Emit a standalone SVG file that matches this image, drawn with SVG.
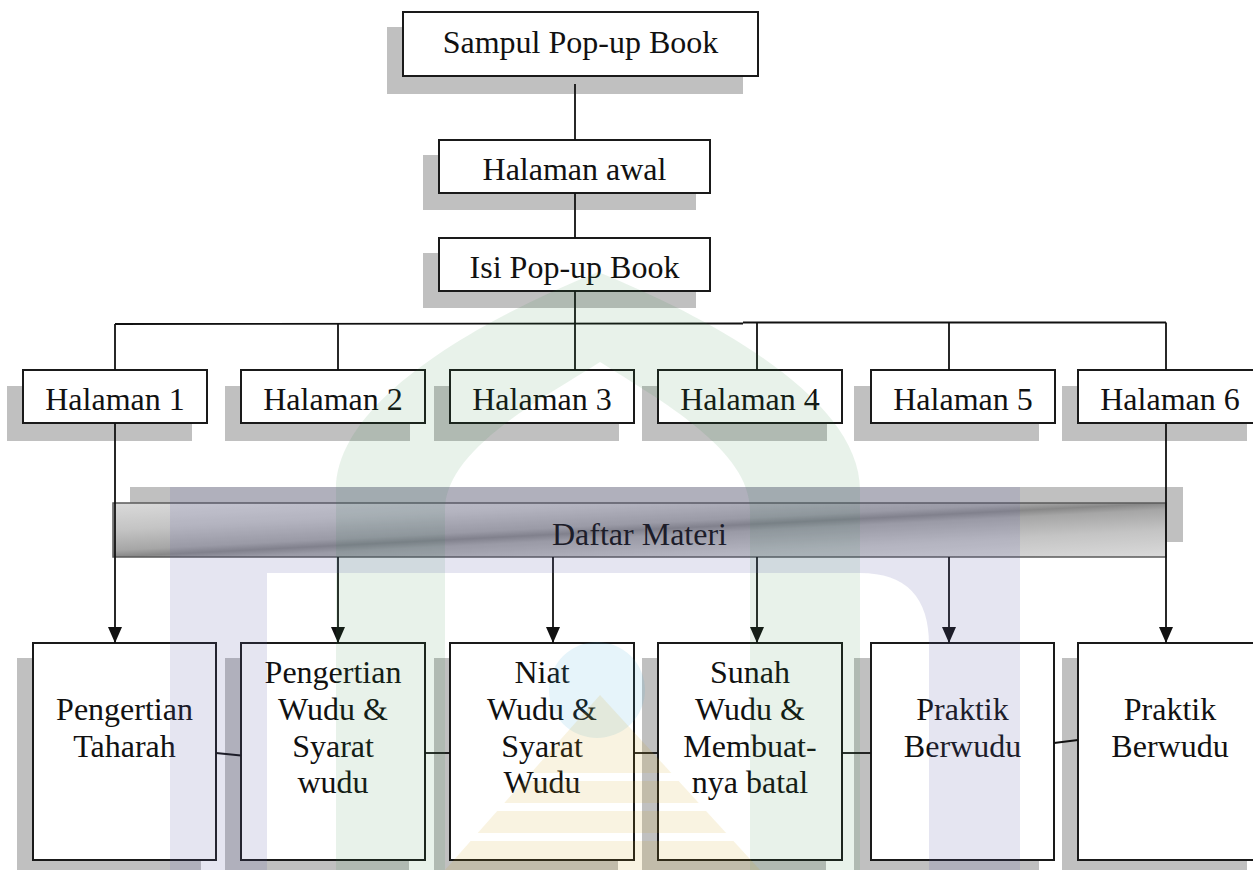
<svg xmlns="http://www.w3.org/2000/svg" width="1253" height="870" viewBox="0 0 1253 870">
<defs>
<style>
.box{fill:#fff;stroke:#1a1a1a;stroke-width:2}
.sh{fill:#c0c0c0}
.t{font-family:"Liberation Serif","Times New Roman",serif;font-size:32px;fill:#111;text-anchor:middle}
.ln{stroke:#111;stroke-width:1.8;fill:none}
.ar{marker-end:url(#ah)}
</style>
<marker id="ah" markerUnits="userSpaceOnUse" markerWidth="16" markerHeight="14" refX="16" refY="7" orient="auto" viewBox="0 0 16 14">
<path d="M0,0 L16,7 L0,14 Z" fill="#111"/>
</marker>
<linearGradient id="metal" x1="0" y1="0" x2="1" y2="1">
<stop offset="0" stop-color="#dadada"/>
<stop offset="0.25" stop-color="#c4c4c4"/>
<stop offset="0.44" stop-color="#a6a6a6"/>
<stop offset="0.5" stop-color="#888888"/>
<stop offset="0.56" stop-color="#a6a6a6"/>
<stop offset="0.75" stop-color="#c4c4c4"/>
<stop offset="1" stop-color="#dadada"/>
</linearGradient>
<mask id="goldmask">
<path d="M600,695 L445,870 L760,870 Z" fill="#fff"/>
<rect x="400" y="773" width="400" height="8" fill="#000"/>
<rect x="400" y="803" width="400" height="8" fill="#000"/>
<rect x="400" y="833" width="400" height="8" fill="#000"/>
</mask>
</defs>
<rect width="1253" height="870" fill="#fff"/>

<g id="sampul">
<rect class="sh" x="387" y="27" width="356" height="67"/>
<rect class="box" x="403" y="12" width="355" height="64"/>
<text class="t" x="580.5" y="53">Sampul Pop-up Book</text>
</g>
<g id="halaman-awal">
<rect class="sh" x="423" y="155" width="273" height="55"/>
<rect class="box" x="439" y="140" width="271" height="53"/>
<text class="t" x="574.5" y="180">Halaman awal</text>
</g>
<g id="isi">
<rect class="sh" x="423" y="253" width="273" height="55"/>
<rect class="box" x="439" y="238" width="271" height="53"/>
<text class="t" x="574.5" y="278">Isi Pop-up Book</text>
</g>

<g id="halaman-1">
<rect class="sh" x="7" y="386" width="185" height="55"/>
<rect class="box" x="23" y="370" width="184" height="53"/>
<text class="t" x="115" y="410">Halaman 1</text>
</g>
<g id="halaman-2">
<rect class="sh" x="225" y="386" width="185" height="55"/>
<rect class="box" x="241" y="370" width="184" height="53"/>
<text class="t" x="333" y="410">Halaman 2</text>
</g>
<g id="halaman-3">
<rect class="sh" x="434" y="386" width="185" height="55"/>
<rect class="box" x="450" y="370" width="184" height="53"/>
<text class="t" x="542" y="410">Halaman 3</text>
</g>
<g id="halaman-4">
<rect class="sh" x="642" y="386" width="185" height="55"/>
<rect class="box" x="658" y="370" width="184" height="53"/>
<text class="t" x="750" y="410">Halaman 4</text>
</g>
<g id="halaman-5">
<rect class="sh" x="854" y="386" width="185" height="55"/>
<rect class="box" x="871" y="370" width="184" height="53"/>
<text class="t" x="963" y="410">Halaman 5</text>
</g>
<g id="halaman-6">
<rect class="sh" x="1062" y="386" width="185" height="55"/>
<rect class="box" x="1078" y="370" width="184" height="53"/>
<text class="t" x="1170" y="410">Halaman 6</text>
</g>

<g id="daftar-materi">
<rect class="sh" x="130" y="487" width="1053" height="55"/>
<rect x="113" y="503" width="1053" height="54" fill="url(#metal)" stroke="#5a5a5a" stroke-width="1.5"/>
<text class="t" x="639.5" y="545">Daftar Materi</text>
</g>

<g id="materi-1">
<rect class="sh" x="17" y="658" width="184" height="230"/>
<rect class="box" x="33" y="643" width="183" height="217"/>
<text class="t" x="124.5" y="720">Pengertian</text>
<text class="t" x="124.5" y="757">Taharah</text>
</g>
<g id="materi-2">
<rect class="sh" x="225" y="658" width="184" height="230"/>
<rect class="box" x="241" y="643" width="184" height="217"/>
<text class="t" x="333" y="683">Pengertian</text>
<text class="t" x="333" y="720">Wudu &amp;</text>
<text class="t" x="333" y="757">Syarat</text>
<text class="t" x="333" y="793">wudu</text>
</g>
<g id="materi-3">
<rect class="sh" x="434" y="658" width="184" height="230"/>
<rect class="box" x="450" y="643" width="184" height="217"/>
<text class="t" x="542" y="683">Niat</text>
<text class="t" x="542" y="720">Wudu &amp;</text>
<text class="t" x="542" y="757">Syarat</text>
<text class="t" x="542" y="793">Wudu</text>
</g>
<g id="materi-4">
<rect class="sh" x="642" y="658" width="184" height="230"/>
<rect class="box" x="658" y="643" width="184" height="217"/>
<text class="t" x="750" y="683">Sunah</text>
<text class="t" x="750" y="720">Wudu &amp;</text>
<text class="t" x="750" y="757">Membuat-</text>
<text class="t" x="750" y="793">nya batal</text>
</g>
<g id="materi-5">
<rect class="sh" x="854" y="658" width="185" height="230"/>
<rect class="box" x="871" y="643" width="183" height="217"/>
<text class="t" x="962.5" y="720">Praktik</text>
<text class="t" x="962.5" y="757">Berwudu</text>
</g>
<g id="materi-6">
<rect class="sh" x="1062" y="658" width="185" height="230"/>
<rect class="box" x="1078" y="643" width="184" height="217"/>
<text class="t" x="1170" y="720">Praktik</text>
<text class="t" x="1170" y="757">Berwudu</text>
</g>

<g id="connectors">
<line class="ln" x1="575" y1="84" x2="575" y2="140"/>
<line class="ln" x1="575" y1="193" x2="575" y2="238"/>
<line class="ln" x1="575" y1="291" x2="575" y2="370"/>
<line class="ln" x1="115" y1="324" x2="743" y2="323.5"/>
<line class="ln" x1="743" y1="322.5" x2="1166" y2="322.5"/>
<line class="ln" x1="115" y1="324" x2="115" y2="370"/>
<line class="ln" x1="338" y1="323.5" x2="338" y2="370"/>
<line class="ln" x1="757" y1="323" x2="757" y2="370"/>
<line class="ln" x1="949" y1="322.5" x2="949" y2="370"/>
<line class="ln" x1="1166" y1="322.5" x2="1166" y2="370"/>
<line class="ln ar" x1="115" y1="423" x2="115" y2="643"/>
<line class="ln ar" x1="1166" y1="423" x2="1166" y2="643"/>
<line class="ln ar" x1="338" y1="557" x2="338" y2="643"/>
<line class="ln ar" x1="553" y1="557" x2="553" y2="643"/>
<line class="ln ar" x1="757" y1="557" x2="757" y2="643"/>
<line class="ln ar" x1="949" y1="557" x2="949" y2="643"/>
<line class="ln" x1="216" y1="753" x2="241" y2="755.5"/>
<line class="ln" x1="425" y1="753" x2="450" y2="753"/>
<line class="ln" x1="634" y1="753" x2="658" y2="753"/>
<line class="ln" x1="842" y1="753" x2="871" y2="753"/>
<line class="ln" x1="1054" y1="743" x2="1078" y2="740"/>
</g>

<g id="watermark">
<path d="M336,870 L336,490 C336,400 480,320 598,272 C716,320 860,400 860,490 L860,870 Z M445,870 L445,510 C445,450 540,400 600,362 C660,400 750,450 750,510 L750,870 Z" fill="#2e8b3e" fill-opacity="0.11" fill-rule="evenodd"/>
<path d="M170,487 L1020,487 L1020,870 L929,870 L929,645 Q929,573 860,573 L267,573 L267,870 L170,870 Z" fill="#5c5ca8" fill-opacity="0.16"/>
<circle cx="597" cy="690" r="48" fill="#3aa8d8" fill-opacity="0.13"/>
<rect x="400" y="690" width="400" height="180" fill="#d4a017" fill-opacity="0.13" mask="url(#goldmask)"/>
</g>
</svg>
